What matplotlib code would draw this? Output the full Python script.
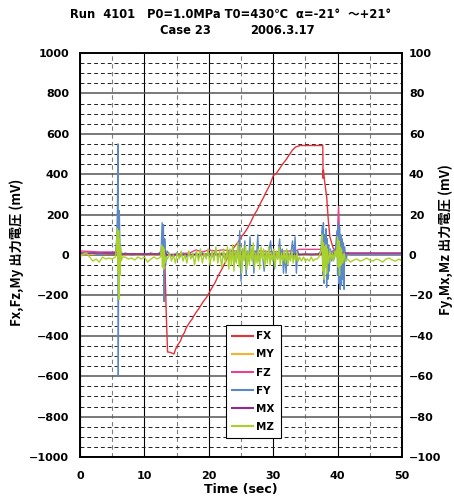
import matplotlib
matplotlib.use("Agg")
import matplotlib.pyplot as plt
from matplotlib.ticker import MultipleLocator
from matplotlib.lines import Line2D
from matplotlib.font_manager import FontProperties

# ---------------- data (left axis: FX, FZ, MY ; right axis: FY, MX, MZ) ----------------
fx_t = [0, 5.8, 5.9, 6.0, 6.1, 13.0, 13.2, 13.4, 13.6, 14.0, 14.6, 14.8, 15.0, 15.3, 15.6,
        15.9, 16.2, 16.5, 16.8, 17.1, 17.4, 17.7, 18.0, 18.4, 18.8, 19.2, 19.6, 20.0, 20.5,
        21.0, 21.5, 22.0, 22.5, 23.0, 23.5, 24.0, 24.5, 25.0, 25.5, 26.0, 26.5, 27.0, 27.5,
        28.0, 28.5, 29.0, 29.5, 30.0, 30.5, 31.0, 31.5, 32.0, 32.5, 33.0, 33.5, 34.2, 37.7,
        37.75, 37.8, 38.0, 38.3, 38.55, 38.8, 39.3, 39.8, 41.0, 50.0]
fx_v = [5, 5, 30, -20, 5, 5, -60, -300, -480, -482, -490, -470, -455, -440, -425,
        -400, -385, -360, -345, -330, -318, -300, -285, -268, -248, -228, -212, -190, -162,
        -135, -100, -72, -40, -8, 18, 42, 62, 88, 108, 132, 162, 196, 222,
        255, 285, 318, 348, 392, 405, 428, 452, 472, 496, 520, 535, 542, 542,
        380, 420, 360, 290, 175, 90, 35, 15, 3, 3]

fz_t = [0, 3, 5.5, 5.8, 5.9, 6.0, 6.1, 6.3, 7, 10, 12.5, 13, 15, 17, 18, 19, 20, 21, 22, 24,
        26, 28, 30, 32, 33.5, 34, 37.4, 37.6, 38.5, 39.8, 40.0, 40.15, 40.3, 40.5, 41, 50]
fz_v = [20, 15, 15, 50, 110, 130, 60, 10, 5, 5, 5, 0, 5, 10, 25, 15, 25, 20, 25, 20,
        15, 20, 15, 20, 20, 28, 28, 10, 5, 30, 120, 240, 100, 10, 5, 5]

my_t = [0, 6.0, 6.2, 6.4, 13, 13.2, 13.4, 50]
my_v = [0, 10, -10, 0, 0, 5, 0, 0]

fy_t = [0, 1, 2, 3, 4, 5, 5.5, 5.7, 5.8, 5.9, 5.95, 6.0, 6.1, 6.2, 6.3, 6.5, 7, 8, 9, 10,
        11, 12, 12.6, 12.75, 12.85, 12.95, 13.05, 13.15, 13.3, 13.5, 14,
        14.5, 15, 15.5, 16, 16.5, 17, 17.5, 18, 18.5, 19, 19.5, 20, 20.5, 21, 21.5, 22, 22.5,
        23, 23.5, 23.8, 24.1, 24.4, 24.6, 24.8, 25.0, 25.2, 25.4, 25.6, 25.8, 26.0, 26.2,
        26.4, 26.6, 26.8, 27.0, 27.2, 27.4, 27.6, 27.8, 28.1, 28.4, 28.6, 28.8, 29.1, 29.4,
        29.6, 29.8, 30.0, 30.2, 30.4, 30.7, 31.0, 31.2, 31.4, 31.6, 31.8, 32.0, 32.2, 32.5,
        32.8, 33.0, 33.2, 33.4, 33.6, 33.8, 34.0,
        35, 36, 37, 37.4, 37.6, 37.7, 37.8, 37.9, 38.0, 38.1, 38.2, 38.3, 38.4, 38.5, 38.6,
        38.7, 38.9, 39.1, 39.3, 39.5, 39.7, 39.9, 40.0, 40.1, 40.2, 40.3, 40.4, 40.5, 40.6,
        40.7, 40.8, 40.9, 41.0, 41.1, 41.3, 41.5, 42, 45, 50]
fy_v = [1, 0.5, 1, 0, 1, 0.5, 1, 8, 20, 55, -60, 15, 22, 5, 2, 0, 1, 0, 0.5, 0,
        1, 0, 2, 16, -5, 15, -23, 8, -5, 2, 0,
        -1, 1, -1, 1, -1, 1, -1, 1, -1, 1, -1, 1, -1, 2, -1, 1, -2,
        2, -2, 3, -3, 2, -2, 12, -13, 3, -2, 7, -10, 2, -3,
        9, -2, 3, -9, 2, -2, 10, -3, 2, -2, -8, 2, -2, 3,
        7, -2, 2, -7, 1, -2, 8, -2, 3, -9, 1, -9, 2, -2,
        2, 7, -2, 9, -9, 2, 0,
        0.5, 0, 0.5, 2, 14, -10, 16, -14, 10, -6, 13, -16, 8, -12, 5,
        -8, 3, -3, 2, -2, 4, 12, -10, 16, -14, 14, -17, 10, -15,
        8, -12, 6, -17, 4, -3, 1, 0, 0, 0]

mx_t = [0, 5.5, 6.0, 6.3, 13, 13.2, 13.4, 20, 30, 37.5, 38, 38.5, 40, 41, 50]
mx_v = [1, 1, 2, 0.5, 0.5, 2, 0, 0.5, 0.3, 0.5, 1.5, 0, 1, 1, 1]

mz_t = [0, 0.5, 1, 1.5, 2, 2.5, 3, 3.5, 4, 4.5, 5, 5.5,
        5.7, 5.8, 5.9, 6.0, 6.05, 6.1, 6.2, 6.3, 6.4, 6.6,
        7, 7.5, 8, 8.5, 9, 9.5, 10, 10.5, 11, 11.5, 12, 12.5,
        12.7, 12.8, 12.9, 13.0, 13.1, 13.2, 13.4,
        13.6, 13.9, 14.2, 14.5, 14.8, 15.1, 15.4, 15.7, 16.0, 16.3, 16.6, 16.9, 17.2, 17.5,
        17.8, 18.1, 18.4, 18.7, 19.0, 19.3, 19.6, 19.9, 20.2, 20.5, 20.8, 21.1, 21.4, 21.7,
        22.0, 22.3, 22.6, 22.9,
        23.1, 23.3, 23.5, 23.7, 23.9, 24.1, 24.3, 24.5, 24.7, 24.9, 25.1, 25.3, 25.5, 25.7,
        25.9, 26.1, 26.3, 26.5, 26.7, 26.9, 27.1, 27.3, 27.5, 27.7, 27.9, 28.1, 28.3, 28.5,
        28.7, 28.9, 29.1, 29.3, 29.5, 29.7, 29.9, 30.1, 30.3, 30.5, 30.7, 30.9, 31.1, 31.3,
        31.5, 31.7, 31.9, 32.1, 32.3, 32.5, 32.7, 32.9, 33.1, 33.3, 33.5, 33.7, 33.9,
        34.1, 34.4, 34.7, 35.0, 35.3, 35.6, 35.9, 36.2, 36.5, 36.8, 37.1,
        37.5, 37.6, 37.7, 37.8, 37.9, 38.0, 38.1, 38.2, 38.3, 38.4, 38.6, 38.8, 39.0, 39.2,
        39.4, 39.6, 39.8, 40.0, 40.1, 40.2, 40.3, 40.4, 40.5, 40.6, 40.8, 41.0, 41.2,
        41.5, 42, 42.5, 43, 43.5, 44, 44.5, 45, 45.5, 46, 46.5, 47, 47.5, 48, 48.5, 49, 49.5, 50]
mz_v = [-1, 0.5, 1, -1, -3, -2, -3.5, -1, -2, -1.5, -2, -1,
        5, 13, -8, 12, -22, 8, -10, 4, -3, -1,
        -1, -2, -1.5, -2.5, -1, -2, -1, -3.5, -2, -1, -2, -1,
        5, -6, 4, -7, 3, -4, -1,
        -2, 1, -3, 0, -4, 1, -2, 2, -3, 0, -4, 2, -2, 1,
        -5, 2, -3, 3, -4, 1, -2, 3, -5, 2, -3, 4, -4, 2,
        -6, 3, -4, 4,
        -7, 3, -5, 5, -8, 2, -4, 6, -6, 4, -9, 3, -3, 5,
        -7, 2, -5, 4, -3, 6, -6, 1, -4, 3, -7, 4, -2, 3,
        -6, 2, -4, 4, -5, 1, -3, 3, -6, 2, -2, 4, -5, 1,
        -3, 2, -4, 3, -5, 1, -3, 2, -4, 0, -3, 1, -3,
        -1, -3, -1, -3, -2, -3, -1, -3, -2, -2, -1,
        3, 10, -8, 6, -12, 4, -6, 5, -9, 3, -4, 2, -2, 1,
        -3, 2, -1, 9, -6, 7, -10, 4, -5, 3, -4, 1, -3,
        -2, -3.5, -2.5, -2, -3, -2.5, -1.5, -2.5, -3, -2, -2.5, -3.5, -2, -1.5, -2.5, -3, -2, -3]

labels = ["FX", "MY", "FZ", "FY", "MX", "MZ"]
colors = {"FX": "#e5323b", "MY": "#f3b431", "FZ": "#e8428e", "FY": "#5a88c8",
          "MX": "#93298d", "MZ": "#a8d12c"}

title1 = "Run  4101   P0=1.0MPa T0=430℃  α=-21°  ～+21°"
title2a = "Case 23"
title2b = "2006.3.17"
ylabel_left = "Fx,Fz,My 出力電圧 (mV)"
ylabel_right = "Fy,Mx,Mz 出力電圧 (mV)"
xlabel = "Time (sec)"

# ---------------- figure ----------------
W, H = 454, 504
fig = plt.figure(figsize=(W / 100, H / 100), dpi=100)
fig.patch.set_facecolor("white")
x0, x1, ytop, ybot = 80, 402, 53, 457
ax = fig.add_axes([x0 / W, 1 - ybot / H, (x1 - x0) / W, (ybot - ytop) / H])
ax2 = ax.twinx()

lw = 1.0
ax.plot(fx_t, fx_v, color=colors["FX"], lw=lw, zorder=3)
ax.plot(my_t, my_v, color=colors["MY"], lw=lw, zorder=3)
ax.plot(fz_t, fz_v, color=colors["FZ"], lw=lw, zorder=3)
ax2.plot(fy_t, fy_v, color=colors["FY"], lw=lw)
ax2.plot(mx_t, mx_v, color=colors["MX"], lw=lw)
ax2.plot(mz_t, mz_v, color=colors["MZ"], lw=lw)

ax.set_xlim(0, 50)
ax.set_ylim(-1000, 1000)
ax2.set_ylim(-100, 100)

ax.xaxis.set_major_locator(MultipleLocator(10))
ax.xaxis.set_minor_locator(MultipleLocator(5))
ax.yaxis.set_major_locator(MultipleLocator(200))
ax.yaxis.set_minor_locator(MultipleLocator(50))
ax2.yaxis.set_major_locator(MultipleLocator(20))
ax2.yaxis.set_minor_locator(MultipleLocator(5))

ax.grid(True, which="major", axis="x", color="black", lw=0.8, ls="-", zorder=0)
ax.grid(True, which="minor", axis="x", color="#808080", lw=0.8, ls=(0, (4, 3)), zorder=0)
ax.grid(True, which="major", axis="y", color="#555555", lw=1.1, ls="-", zorder=0)
ax.grid(True, which="minor", axis="y", color="#222222", lw=0.7, ls=(0, (4, 3)), zorder=0)
ax.set_axisbelow(True)

tickfp = FontProperties(family="DejaVu Sans", weight="bold", size=8)
ax.tick_params(axis="both", which="both", direction="in", length=0)
ax.tick_params(axis="y", pad=8)
ax.tick_params(axis="x", pad=10)
ax2.tick_params(axis="y", which="both", direction="in", length=0, pad=5)
for lab in ax.get_xticklabels() + ax.get_yticklabels() + ax2.get_yticklabels():
    lab.set_fontproperties(tickfp)

for a in (ax, ax2):
    for s in a.spines.values():
        s.set_linewidth(1.2)
        s.set_color("black")

lat = ["DejaVu Sans", "Noto Sans CJK JP"]
jp = ["Noto Sans CJK JP", "DejaVu Sans"]
fig.text(231 / W, 1 - 15 / H, title1, ha="center", va="center", family=lat, weight="bold", fontsize=8.3)
fig.text(160 / W, 1 - 31 / H, title2a, ha="left", va="center", family=lat, weight="bold", fontsize=8.3)
fig.text(250 / W, 1 - 31 / H, title2b, ha="left", va="center", family=lat, weight="bold", fontsize=8.3)
fig.text(17 / W, 1 - 252 / H, ylabel_left, ha="center", va="center", rotation=90,
         family=jp, weight="bold", fontsize=9.5)
fig.text(446 / W, 1 - 240 / H, ylabel_right, ha="center", va="center", rotation=90,
         family=jp, weight="bold", fontsize=9.5)
fig.text(241 / W, 1 - 489 / H, xlabel, ha="center", va="center", family="DejaVu Sans",
         weight="bold", fontsize=9)

handles = [Line2D([], [], color=colors[k], lw=1.5) for k in labels]
leg = ax2.legend(handles, labels, loc="upper left", bbox_to_anchor=(226 / W, 1 - 325 / H),
                 bbox_transform=fig.transFigure, fancybox=False, framealpha=1, borderaxespad=0,
                 edgecolor="black", handlelength=2.0, handletextpad=0.3, labelspacing=0.78,
                 borderpad=0.6, prop=dict(family="DejaVu Sans", weight="bold", size=7.5))
leg.get_frame().set_linewidth(0.8)

fig.savefig("out.png", dpi=100)
